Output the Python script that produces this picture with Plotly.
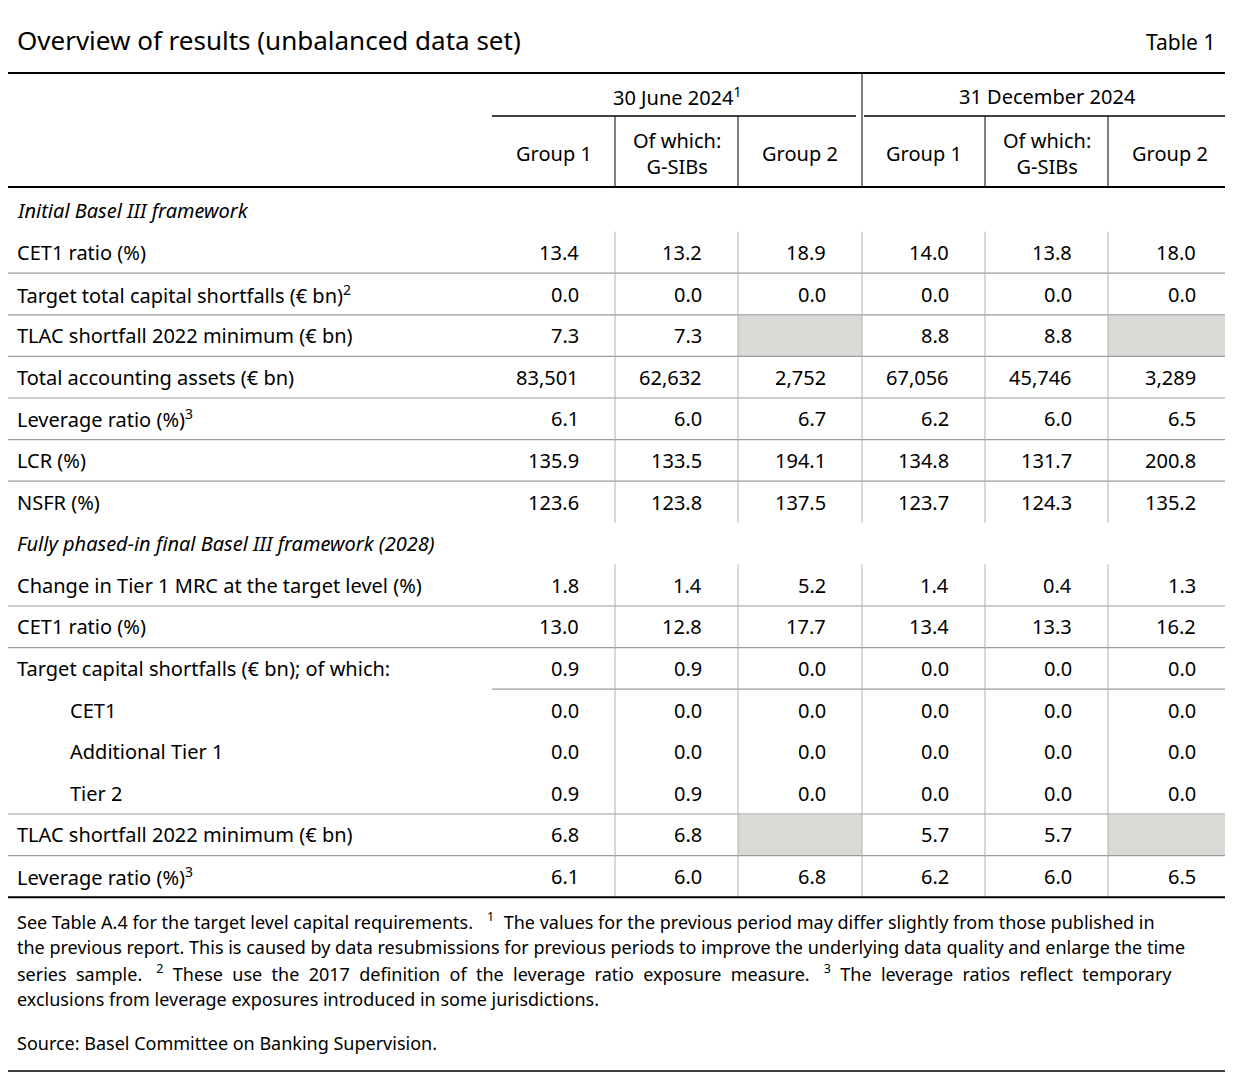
import plotly.graph_objects as go

W, H = 1233, 1074
OFF = 8  # page body margin in the browser
FONT = "Noto Sans"

periods = ["30 June 2024<sup>1</sup>", "31 December 2024"]
col_heads = ["Group 1", "Of which:<br>G-SIBs", "Group 2"] * 2

row_labels = [
    "<i>Initial Basel III framework</i>",
    "CET1 ratio (%)",
    "Target total capital shortfalls (€ bn)<sup>2</sup>",
    "TLAC shortfall 2022 minimum (€ bn)",
    "Total accounting assets (€ bn)",
    "Leverage ratio (%)<sup>3</sup>",
    "LCR (%)",
    "NSFR (%)",
    "<i>Fully phased-in final Basel III framework (2028)</i>",
    "Change in Tier 1 MRC at the target level (%)",
    "CET1 ratio (%)",
    "Target capital shortfalls (€ bn); of which:",
    "CET1",
    "Additional Tier 1",
    "Tier 2",
    "TLAC shortfall 2022 minimum (€ bn)",
    "Leverage ratio (%)<sup>3</sup>",
]
indented = [12, 13, 14]
values = [
    None,
    ["13.4", "13.2", "18.9", "14.0", "13.8", "18.0"],
    ["0.0", "0.0", "0.0", "0.0", "0.0", "0.0"],
    ["7.3", "7.3", "", "8.8", "8.8", ""],
    ["83,501", "62,632", "2,752", "67,056", "45,746", "3,289"],
    ["6.1", "6.0", "6.7", "6.2", "6.0", "6.5"],
    ["135.9", "133.5", "194.1", "134.8", "131.7", "200.8"],
    ["123.6", "123.8", "137.5", "123.7", "124.3", "135.2"],
    None,
    ["1.8", "1.4", "5.2", "1.4", "0.4", "1.3"],
    ["13.0", "12.8", "17.7", "13.4", "13.3", "16.2"],
    ["0.9", "0.9", "0.0", "0.0", "0.0", "0.0"],
    ["0.0", "0.0", "0.0", "0.0", "0.0", "0.0"],
    ["0.0", "0.0", "0.0", "0.0", "0.0", "0.0"],
    ["0.9", "0.9", "0.0", "0.0", "0.0", "0.0"],
    ["6.8", "6.8", "", "5.7", "5.7", ""],
    ["6.1", "6.0", "6.8", "6.2", "6.0", "6.5"],
]
footnotes = [
    "See Table A.4 for the target level capital requirements.   <sup>1</sup>  The values for the previous period may differ slightly from those published in",
    "the previous report. This is caused by data resubmissions for previous periods to improve the underlying data quality and enlarge the time",
    "series  sample.   <sup>2</sup>  These  use  the  2017  definition  of  the  leverage  ratio  exposure  measure.   <sup>3</sup>  The  leverage  ratios  reflect  temporary",
    "exclusions from leverage exposures introduced in some jurisdictions.",
]
source = "Source: Basel Committee on Banking Supervision."

# geometry
col_left = [492, 615, 738, 862, 985, 1108]
col_right = col_left[1:] + [1232]
row_top0, row_h = 190, 41.6
grey_line = "#b0b0b0"

shapes, ann = [], []

def hline(y, x0=0, x1=W, w=1, c="black"):
    shapes.append(dict(type="line", x0=x0, x1=x1, y0=y, y1=y, line=dict(color=c, width=w)))

def vline(x, y0, y1, c=grey_line, w=1):
    shapes.append(dict(type="line", x0=x, x1=x, y0=y0, y1=y1, line=dict(color=c, width=w)))

def text(x, y, s, size=20, anchor="left"):
    ann.append(dict(x=x, y=y, text=s, showarrow=False, xanchor=anchor, yanchor="middle",
                    font=dict(family=FONT, size=size, color="black")))

# title
hline(2, w=1.5)
text(15, 40, "Overview of results (unbalanced data set)", size=26)
text(1217, 42, "Table 1", size=21, anchor="right")
hline(73, w=2)

# header
for i, p in enumerate(periods):
    x0, x1 = col_left[3 * i], col_right[3 * i + 2]
    text((x0 + x1) / 2, 96, p, anchor="center")
    hline(116, x0 + (0 if i == 0 else 2), x1 - (6 if i == 0 else 0), w=1.5)
vline(862, 73, 187, c="black", w=1)
for j, h in enumerate(col_heads):
    cx = (col_left[j] + col_right[j]) / 2
    ann.append(dict(x=cx, y=153, text=h, showarrow=False, xanchor="center", yanchor="middle",
                    font=dict(family=FONT, size=20, color="black")))
    if j > 0 and j != 3:
        vline(col_left[j], 116, 187, c="black")
hline(187, w=2)

# body
for r, lab in enumerate(row_labels):
    top = row_top0 + r * row_h
    cy = top + row_h / 2
    text(68 if r in indented else 15, cy, lab)
    vals = values[r]
    if vals is None:
        continue
    for j, v in enumerate(vals):
        if v == "":
            shapes.append(dict(type="rect", x0=col_left[j], x1=col_right[j], y0=top + 1, y1=top + row_h,
                               fillcolor="#d9d9d6", line=dict(width=0), layer="below"))
        else:
            text(col_right[j] - 34, cy, v, anchor="right")

def ybot(r):
    return row_top0 + (r + 1) * row_h

for r in [1, 2, 3, 4, 5, 6, 9, 10, 14, 15]:
    hline(ybot(r), w=1.2, c="#9a9a9a")
hline(ybot(11), x0=492, w=1.2, c="#9a9a9a")
for x in col_left[1:]:
    vline(x, ybot(0), ybot(7))
    vline(x, ybot(8), ybot(16))
hline(ybot(16), w=2)

for k, f in enumerate(footnotes):
    text(15, 921 + k * 26, f, size=18)
text(15, 1043, source, size=18)
hline(1071, w=1.5)

fig = go.Figure()
fig.update_layout(
    width=W, height=H, margin=dict(l=0, r=0, t=0, b=0),
    plot_bgcolor="white", paper_bgcolor="white",
    xaxis=dict(range=[OFF, W + OFF], visible=False, fixedrange=True),
    yaxis=dict(range=[H + OFF, OFF], visible=False, fixedrange=True),
    shapes=shapes, annotations=ann, showlegend=False,
)
fig.write_html("out.html")
